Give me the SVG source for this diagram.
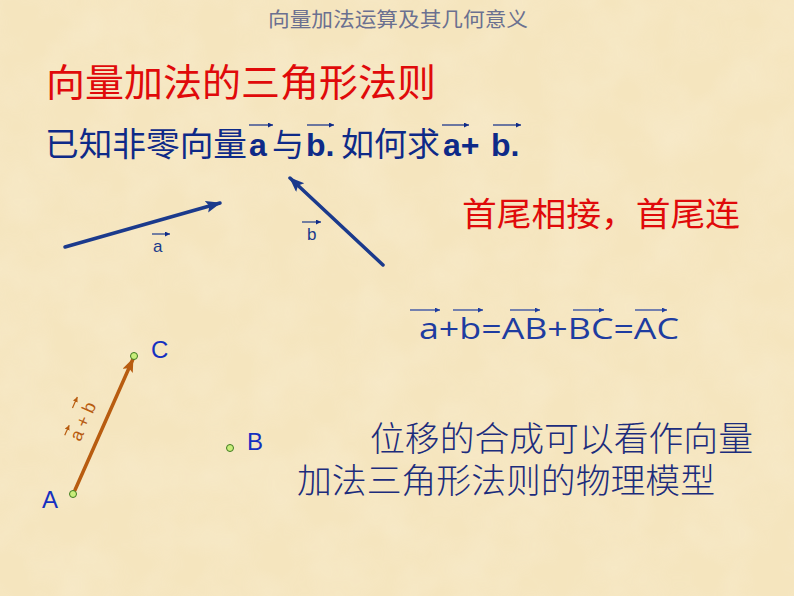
<svg xmlns="http://www.w3.org/2000/svg" width="794" height="596" viewBox="0 0 794 596">
<defs>
<style>
.cjk{font-family:"Noto Sans CJK SC","Liberation Sans",sans-serif;}
.lat{font-family:"Liberation Sans","Noto Sans CJK SC",sans-serif;}
.eq{font-family:"Open Sans","DejaVu Sans",sans-serif;}
.vec{stroke:#1B3A8C;stroke-width:3.5;fill:none;stroke-linecap:round;}
.bar{stroke-width:1.2;fill:none;}
.pt{fill:#C8EE7A;stroke:#3F7A20;stroke-width:1;}
.pl{font-family:"Liberation Sans",sans-serif;font-size:24px;fill:#1530C0;}
</style>
<filter id="paper" x="0" y="0" width="100%" height="100%">
<feTurbulence type="fractalNoise" baseFrequency="0.02" numOctaves="3" seed="4"/>
<feColorMatrix type="matrix" values="0 0 0 0 1  0 0 0 0 0.97  0 0 0 0 0.88  0 0 0 0.5 -0.15"/>
</filter>
<marker id="ah" markerUnits="userSpaceOnUse" markerWidth="18" markerHeight="14" refX="14" refY="6" orient="auto">
<path d="M0,0 L15,6 L0,12 L3,6 Z" fill="#1B3A8C"/>
</marker>
<marker id="ahO" markerUnits="userSpaceOnUse" markerWidth="16" markerHeight="14" refX="13" refY="5.5" orient="auto">
<path d="M0,0 L14,5.5 L0,11 L3,5.5 Z" fill="#B85C10"/>
</marker>
<marker id="sb" markerUnits="userSpaceOnUse" markerWidth="6" markerHeight="6" refX="5" refY="2.5" orient="auto">
<path d="M0,0 L5,2.5 L0,5 Z" fill="#0E2A88"/>
</marker>
<marker id="sk" markerUnits="userSpaceOnUse" markerWidth="6" markerHeight="6" refX="5" refY="2.5" orient="auto">
<path d="M0,0 L5,2.5 L0,5 Z" fill="#1E3CA0"/>
</marker>
<marker id="so" markerUnits="userSpaceOnUse" markerWidth="6" markerHeight="6" refX="5" refY="2.5" orient="auto">
<path d="M0,0 L5,2.5 L0,5 Z" fill="#B85C10"/>
</marker>
</defs>
<rect width="794" height="596" fill="#F5E5BE"/>
<rect width="794" height="596" filter="url(#paper)" opacity="0.6"/>

<g id="title">
<text class="cjk" x="268" y="27" font-size="20" fill="#6B7090" textLength="260" lengthAdjust="spacingAndGlyphs">向量加法运算及其几何意义</text>
</g>

<g id="heading">
<text class="cjk" x="46" y="96" font-size="38" fill="#E00A0A" textLength="390" lengthAdjust="spacingAndGlyphs">向量加法的三角形法则</text>
</g>

<g id="question" fill="#0E2A88">
<text class="cjk" x="45" y="156" font-size="33" textLength="202" lengthAdjust="spacingAndGlyphs">已知非零向量</text>
<text class="lat" x="249" y="156" font-size="32" font-weight="bold">a</text>
<text class="cjk" x="272" y="156" font-size="32">与</text>
<text class="lat" x="306" y="156" font-size="32" font-weight="bold">b.</text>
<text class="cjk" x="341" y="156" font-size="33" textLength="99" lengthAdjust="spacingAndGlyphs">如何求</text>
<text class="lat" x="443" y="156" font-size="32" font-weight="bold">a+</text>
<text class="lat" x="491" y="156" font-size="32" font-weight="bold">b.</text>
<g stroke="#0E2A88" class="bar">
<line x1="249" y1="125" x2="273" y2="125" marker-end="url(#sb)"/>
<line x1="307" y1="125" x2="334" y2="125" marker-end="url(#sb)"/>
<line x1="442" y1="125" x2="469" y2="125" marker-end="url(#sb)"/>
<line x1="493" y1="125" x2="521" y2="125" marker-end="url(#sb)"/>
</g>
</g>

<g id="connectors">
<line class="vec" x1="65" y1="247" x2="220" y2="203" marker-end="url(#ah)"/>
<line class="vec" x1="383" y1="265" x2="290" y2="178" marker-end="url(#ah)"/>
<line x1="75" y1="490" x2="133" y2="359" stroke="#B85C10" stroke-width="3.5" stroke-linecap="round" marker-end="url(#ahO)"/>
</g>

<g id="label-a">
<text class="lat" x="153" y="252" font-size="17" fill="#1B3A8C">a</text>
<line class="bar" stroke="#1B3A8C" x1="152" y1="234" x2="170" y2="234" marker-end="url(#sb)"/>
</g>
<g id="label-b">
<text class="lat" x="307" y="240" font-size="17" fill="#1B3A8C">b</text>
<line class="bar" stroke="#1B3A8C" x1="302" y1="222" x2="321" y2="222" marker-end="url(#sb)"/>
</g>

<g id="rule">
<text class="cjk" x="462" y="226" font-size="33" fill="#E00A0A" textLength="278" lengthAdjust="spacingAndGlyphs">首尾相接，首尾连</text>
</g>

<g id="equation" fill="#1E3CA0">
<text class="eq" x="419" y="339" font-size="29" textLength="260" lengthAdjust="spacingAndGlyphs">a+b=AB+BC=AC</text>
<g stroke="#1E3CA0" class="bar">
<line x1="410" y1="310" x2="440" y2="310" marker-end="url(#sk)"/>
<line x1="453" y1="310" x2="483" y2="310" marker-end="url(#sk)"/>
<line x1="510" y1="310" x2="540" y2="310" marker-end="url(#sk)"/>
<line x1="573" y1="310" x2="604" y2="310" marker-end="url(#sk)"/>
<line x1="635" y1="310" x2="667" y2="310" marker-end="url(#sk)"/>
</g>
</g>

<g id="sum-label" transform="translate(82,421) rotate(-66)">
<text class="lat" x="0" y="7" font-size="18" fill="#B85C10" text-anchor="middle">a + b</text>
<g stroke="#B85C10" class="bar">
<line x1="-20" y1="-10" x2="-9" y2="-10" marker-end="url(#so)"/>
<line x1="8" y1="-14" x2="20" y2="-14" marker-end="url(#so)"/>
</g>
</g>

<g id="point-A">
<circle class="pt" cx="73" cy="494" r="3.5"/>
<text class="pl" x="42" y="508">A</text>
</g>
<g id="point-B">
<circle class="pt" cx="230" cy="448" r="3.5"/>
<text class="pl" x="247" y="450">B</text>
</g>
<g id="point-C">
<circle class="pt" cx="134" cy="356" r="3.5"/>
<text class="pl" x="151" y="358">C</text>
</g>

<g id="note" fill="#1C2C7C">
<text class="cjk" x="370" y="451" font-size="34" font-weight="300" textLength="383" lengthAdjust="spacingAndGlyphs">位移的合成可以看作向量</text>
<text class="cjk" x="297" y="493" font-size="34" font-weight="300" textLength="418" lengthAdjust="spacingAndGlyphs">加法三角形法则的物理模型</text>
</g>
</svg>
